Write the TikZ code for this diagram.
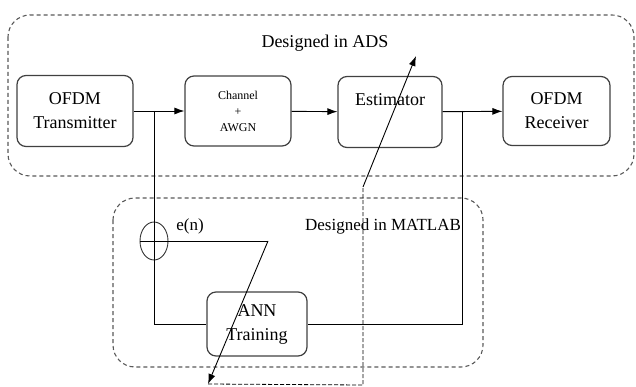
\documentclass[tikz,border=0pt]{standalone}
\usepackage{fontspec}
\setmainfont{Liberation Serif}
\usetikzlibrary{arrows.meta, shapes.geometric}

\begin{document}
\begin{tikzpicture}[x=1pt, y=-1pt,
    block/.style={draw=black!75, line width=1.2pt, rounded corners=9pt, align=center,
        font=\fontsize{18}{24}\selectfont},
    region/.style={draw=black!65, line width=1.1pt, dash pattern=on 4pt off 3pt, rounded corners=22pt},
    flow/.style={line width=0.9pt, -{Latex[length=10pt, width=7pt]}},
    wire/.style={line width=0.9pt},
    tune/.style={line width=0.8pt, dash pattern=on 4pt off 2pt}]
    \useasboundingbox (0,0) rectangle (636,387);

    \draw[region] (8,15) rectangle (634,176);
    \draw[region] (113,198) rectangle (483,367);
    \node[font=\fontsize{18}{22}\selectfont] (ads) at (325,43) {Designed in ADS};
    \node[font=\fontsize{17}{22}\selectfont] (matlab) at (383,226) {Designed in MATLAB};

    \node[block, minimum width=116pt, minimum height=71pt] (tx) at (75,111) {OFDM\\Transmitter};
    \node[block, minimum width=106pt, minimum height=70pt, font=\fontsize{12}{16}\selectfont] (ch) at (238,111) {Channel\\+\\AWGN};
    \node[block, minimum width=104pt, minimum height=71pt,
        label={[anchor=center, yshift=-24pt, font=\fontsize{18}{22}\selectfont]north:Estimator}] (est) at (390,112) {};
    \node[block, minimum width=107pt, minimum height=69pt] (rx) at (556.5,111) {OFDM\\Receiver};
    \node[block, minimum width=100pt, minimum height=64pt] (ann) at (257,324) {ANN\\Training};
    \node[draw=black!80, line width=0.9pt, ellipse, minimum width=28pt, minimum height=38pt, inner sep=0pt] (sum) at (154,241) {};
    \node[font=\fontsize{17}{20}\selectfont] (err) at (190,226) {e(n)};

    \coordinate (j1) at (154,111);
    \coordinate (j2) at (462,111);
    \coordinate (en) at (268,241);
    \coordinate (down) at (208,384);
    \coordinate (corner) at (363,385);
    \coordinate (up) at (363,187);
    \coordinate (tip) at (416,56);

    \draw[flow] (tx) -- (ch);
    \draw[flow] (ch) -- (est);
    \draw[flow] (est) -- (rx);
    \draw[wire] (j1) |- (ann.west);
    \draw[wire] (j2) |- (ann.east);
    \draw[wire] (sum.west) -- (en);
    \draw[flow] (en) -- (down);
    \draw[tune] (down) -- (corner) -- (up);
    \draw[flow] (up) -- (tip);
\end{tikzpicture}
\end{document}
